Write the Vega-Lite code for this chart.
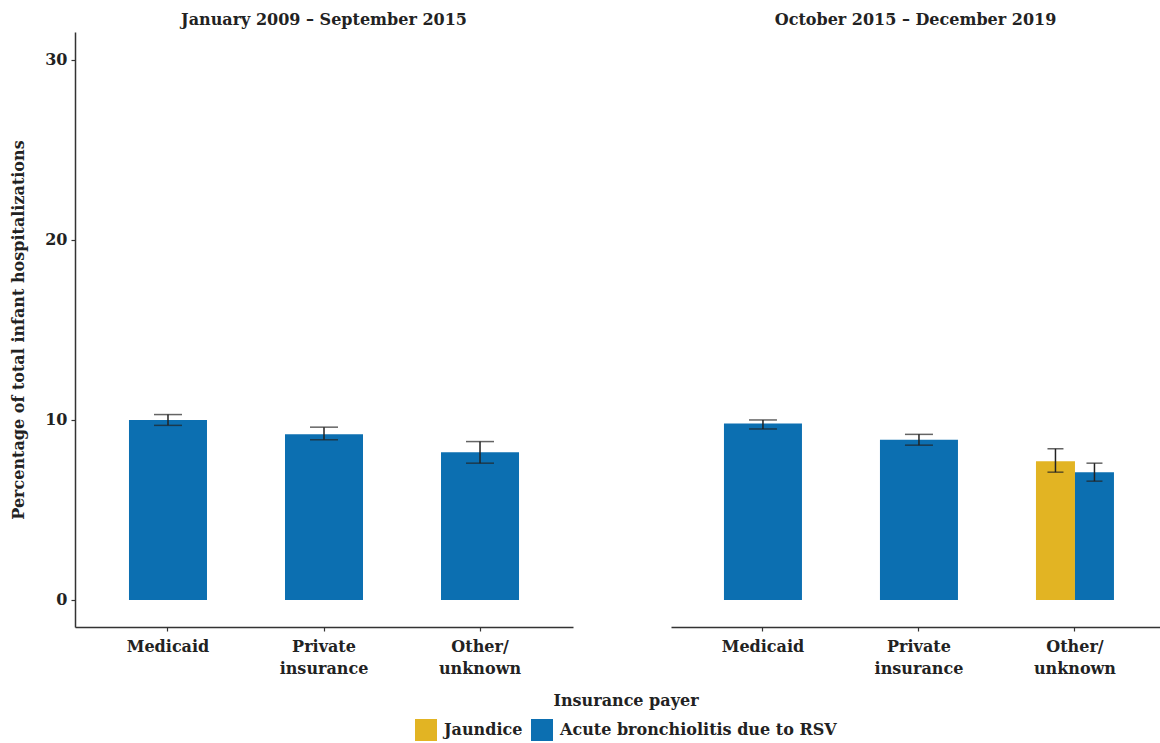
{
  "$schema": "https://vega.github.io/schema/vega-lite/v6.json",
  "background": "white",
  "padding": {"left": 10, "top": 12, "right": 0, "bottom": 0},
  "config": {
    "font": "DejaVu Serif",
    "view": {"stroke": null},
    "axis": {
      "labelFont": "DejaVu Serif",
      "labelFontWeight": "bold",
      "labelFontSize": 16,
      "labelColor": "#222222",
      "titleFont": "DejaVu Serif",
      "titleFontWeight": "bold",
      "titleFontSize": 16,
      "titleColor": "#222222",
      "domainColor": "#333333",
      "domainWidth": 1.5,
      "tickColor": "#333333",
      "tickSize": 4,
      "tickWidth": 1.2,
      "grid": false
    },
    "title": {"font": "DejaVu Serif", "fontSize": 16, "fontWeight": "bold", "color": "#222222", "anchor": "middle", "offset": 4}
  },
  "datasets": {
    "hosp": [
      {"period": "January 2009 – September 2015", "payer": "Medicaid", "condition": "Acute bronchiolitis due to RSV", "pct": 10.0, "lo": 9.7, "hi": 10.3},
      {"period": "January 2009 – September 2015", "payer": "Private insurance", "condition": "Acute bronchiolitis due to RSV", "pct": 9.2, "lo": 8.9, "hi": 9.6},
      {"period": "January 2009 – September 2015", "payer": "Other/unknown", "condition": "Acute bronchiolitis due to RSV", "pct": 8.2, "lo": 7.6, "hi": 8.8},
      {"period": "October 2015 – December 2019", "payer": "Medicaid", "condition": "Acute bronchiolitis due to RSV", "pct": 9.8, "lo": 9.5, "hi": 10.0},
      {"period": "October 2015 – December 2019", "payer": "Private insurance", "condition": "Acute bronchiolitis due to RSV", "pct": 8.9, "lo": 8.6, "hi": 9.2},
      {"period": "October 2015 – December 2019", "payer": "Other/unknown", "condition": "Jaundice", "pct": 7.7, "lo": 7.1, "hi": 8.4},
      {"period": "October 2015 – December 2019", "payer": "Other/unknown", "condition": "Acute bronchiolitis due to RSV", "pct": 7.1, "lo": 6.6, "hi": 7.6}
    ]
  },
  "data": {"name": "hosp"},
  "spacing": 98,
  "resolve": {"scale": {"x": "independent", "y": "independent", "color": "shared", "xOffset": "independent"}},
  "hconcat": [
    {
      "width": 498,
      "height": 595,
      "title": "January 2009 – September 2015",
      "transform": [{"filter": "datum.period === 'January 2009 – September 2015'"}],
      "encoding": {
        "x": {
          "field": "payer",
          "type": "nominal",
          "sort": ["Medicaid", "Private insurance", "Other/unknown"],
          "scale": {"paddingInner": 0.5, "paddingOuter": 0.346},
          "axis": {
            "title": null,
            "labelAngle": 0,
            "labelPadding": 7,
            "labelLineHeight": 22,
            "labelExpr": "datum.label === 'Private insurance' ? ['Private', 'insurance'] : datum.label === 'Other/unknown' ? ['Other/', 'unknown'] : datum.label"
          }
        }
      },
      "layer": [
        {
          "mark": {"type": "bar"},
          "encoding": {
            "y": {
              "field": "pct",
              "type": "quantitative",
              "scale": {"domain": [-1.5, 31.55], "nice": false, "zero": false},
              "axis": {"title": "Percentage of total infant hospitalizations", "values": [0, 10, 20, 30], "labelPadding": 4, "titlePadding": 18}
            },
            "y2": {"datum": 0},
            "color": {
              "field": "condition",
              "type": "nominal",
              "scale": {"domain": ["Jaundice", "Acute bronchiolitis due to RSV"], "range": ["#E2B423", "#0C6FB1"]},
              "legend": {
                "title": "Insurance payer",
                "orient": "none",
                "legendX": 340,
                "legendY": 661,
                "direction": "horizontal",
                "titleOrient": "top",
                "titleAnchor": "middle",
                "titleFont": "DejaVu Serif",
                "titleFontSize": 16,
                "titleFontWeight": "bold",
                "titleColor": "#222222",
                "titlePadding": 10,
                "labelFont": "DejaVu Serif",
                "labelFontSize": 16,
                "labelFontWeight": "bold",
                "labelColor": "#222222",
                "labelLimit": 0,
                "labelOffset": 7,
                "symbolType": "square",
                "symbolSize": 484,
                "symbolStrokeWidth": 0,
                "columnPadding": 8
              }
            }
          }
        },
        {
          "mark": {"type": "rule", "color": "#222222", "strokeWidth": 1.5},
          "encoding": {"y": {"field": "lo", "type": "quantitative"}, "y2": {"field": "hi"}}
        },
        {
          "mark": {"type": "tick", "color": "#222222", "size": 28, "thickness": 1.5},
          "encoding": {"y": {"field": "lo", "type": "quantitative"}}
        },
        {
          "mark": {"type": "tick", "color": "#222222", "size": 28, "thickness": 1.5},
          "encoding": {"y": {"field": "hi", "type": "quantitative"}}
        }
      ]
    },
    {
      "width": 489,
      "height": 595,
      "title": "October 2015 – December 2019",
      "transform": [{"filter": "datum.period === 'October 2015 – December 2019'"}],
      "encoding": {
        "x": {
          "field": "payer",
          "type": "nominal",
          "sort": ["Medicaid", "Private insurance", "Other/unknown"],
          "scale": {"paddingInner": 0.5, "paddingOuter": 0.3173, "align": 0.535},
          "axis": {
            "title": null,
            "labelAngle": 0,
            "labelPadding": 7,
            "labelLineHeight": 22,
            "labelExpr": "datum.label === 'Private insurance' ? ['Private', 'insurance'] : datum.label === 'Other/unknown' ? ['Other/', 'unknown'] : datum.label"
          }
        }
      },
      "layer": [
        {
          "transform": [{"filter": "datum.payer !== 'Other/unknown'"}],
          "mark": {"type": "bar"},
          "encoding": {
            "y": {
              "field": "pct",
              "type": "quantitative",
              "scale": {"domain": [-1.5, 31.55], "nice": false, "zero": false},
              "axis": null
            },
            "y2": {"datum": 0},
            "color": {"field": "condition", "type": "nominal"}
          }
        },
        {
          "transform": [{"filter": "datum.payer === 'Other/unknown'"}],
          "mark": {"type": "bar"},
          "encoding": {
            "xOffset": {"field": "condition", "type": "nominal", "scale": {"domain": ["Jaundice", "Acute bronchiolitis due to RSV"], "paddingInner": 0, "paddingOuter": 0}},
            "y": {"field": "pct", "type": "quantitative"},
            "y2": {"datum": 0},
            "color": {"field": "condition", "type": "nominal"}
          }
        },
        {
          "transform": [{"filter": "datum.payer !== 'Other/unknown'"}],
          "mark": {"type": "rule", "color": "#222222", "strokeWidth": 1.5},
          "encoding": {"y": {"field": "lo", "type": "quantitative"}, "y2": {"field": "hi"}}
        },
        {
          "transform": [{"filter": "datum.payer !== 'Other/unknown'"}],
          "mark": {"type": "tick", "color": "#222222", "size": 28, "thickness": 1.5},
          "encoding": {"y": {"field": "lo", "type": "quantitative"}}
        },
        {
          "transform": [{"filter": "datum.payer !== 'Other/unknown'"}],
          "mark": {"type": "tick", "color": "#222222", "size": 28, "thickness": 1.5},
          "encoding": {"y": {"field": "hi", "type": "quantitative"}}
        },
        {
          "transform": [{"filter": "datum.payer === 'Other/unknown'"}],
          "mark": {"type": "rule", "color": "#222222", "strokeWidth": 1.5},
          "encoding": {
            "xOffset": {"field": "condition", "type": "nominal"},
            "y": {"field": "lo", "type": "quantitative"},
            "y2": {"field": "hi"}
          }
        },
        {
          "transform": [{"filter": "datum.payer === 'Other/unknown'"}],
          "mark": {"type": "tick", "color": "#222222", "size": 16, "thickness": 1.5},
          "encoding": {
            "xOffset": {"field": "condition", "type": "nominal"},
            "y": {"field": "lo", "type": "quantitative"}
          }
        },
        {
          "transform": [{"filter": "datum.payer === 'Other/unknown'"}],
          "mark": {"type": "tick", "color": "#222222", "size": 16, "thickness": 1.5},
          "encoding": {
            "xOffset": {"field": "condition", "type": "nominal"},
            "y": {"field": "hi", "type": "quantitative"}
          }
        }
      ]
    }
  ]
}
